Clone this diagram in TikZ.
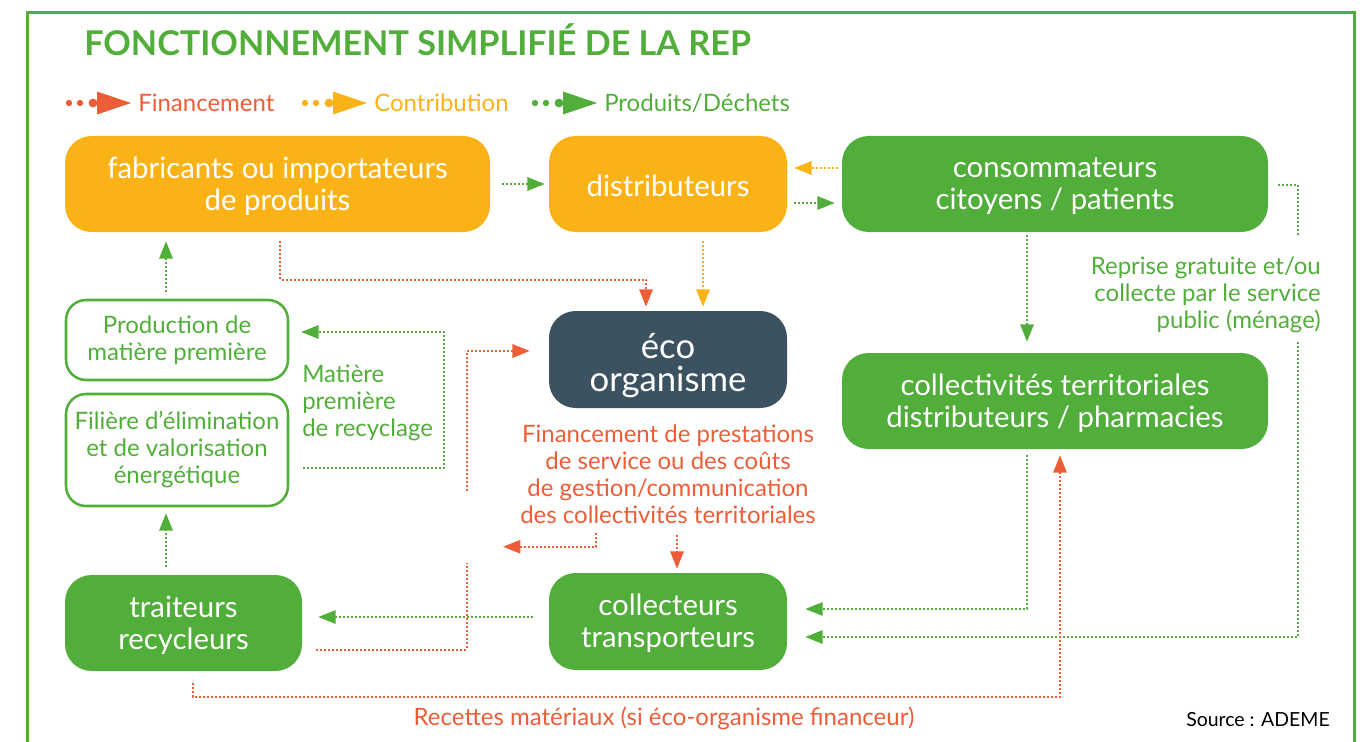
\documentclass[tikz,border=0pt]{standalone}
\usepackage{fontspec}
\setmainfont{Lato}
\usetikzlibrary{arrows.meta,calc}
\definecolor{repgreen}{RGB}{82,174,58}
\definecolor{reporange}{RGB}{250,178,23}
\definecolor{repred}{RGB}{236,93,56}
\definecolor{repslate}{RGB}{61,82,96}
\newcommand\repboxfont{\fontsize{22}{24}\selectfont}
\newcommand\repecofont{\fontsize{26}{25}\selectfont}
\newcommand\repsmallfont{\fontsize{18}{20.25}\selectfont}
\newcommand\replabfont{\fontsize{18}{20.25}\selectfont}
\begin{document}
\begin{tikzpicture}[x=0.75pt,y=-0.75pt,
  fillbox/.style={rounded corners=20pt,inner sep=0pt},
  boxtext/.style={inner sep=0pt,align=center,text=white,font=\repboxfont,yshift=-1.5pt},
  obox/.style={draw=repgreen,line width=1.9pt,fill=white,rounded corners=15pt,inner sep=0pt,
    align=center,text=repgreen,font=\repsmallfont,minimum width=166.5pt},
  dotline/.style={line width=1.5pt,dash pattern=on 1.5pt off 1.5pt},
  gdot/.style={dotline,draw=repgreen},
  odot/.style={dotline,draw=reporange},
  rdot/.style={dotline,draw=repred},
  tip/.style={-{Triangle[length=13pt,width=10pt]}},
  lab/.style={inner sep=0pt,font=\replabfont}
]
\useasboundingbox (0,0) rectangle (1365,742);

% outer frame, open at the bottom
\draw[repgreen,line width=2.25pt] (27,760) -- (27,13) -- (1354,13) -- (1354,760);

% title
\node[anchor=base west,inner sep=0pt,text=repgreen,font=\fontsize{25.6}{28}\bfseries] (title) at (84,56)
  {FONCTIONNEMENT SIMPLIFIÉ DE LA REP};

% legend
\foreach \c/\x/\t/\n in {repred/69/Financement/lfin,reporange/305/Contribution/lcon,repgreen/535/Produits\slash Déchets/lprod}{
  \fill[\c] (\x,103) circle (3.2);
  \fill[\c] (\x+11,103) circle (3.2);
  \fill[\c] (\x+24,103) circle (4.4);
  \fill[\c] (\x+28,91.5) -- (\x+62,103) -- (\x+28,114.5) -- cycle;
  \node[anchor=west,inner sep=0pt,text=\c,font=\fontsize{18}{20}\selectfont] (\n) at (\x+69,103) {\t};
}

% actors
\node[fillbox,fill=reporange,minimum width=318.75pt,minimum height=72pt,
  label={[boxtext]center:fabricants ou importateurs\\de produits}] (fab) at (277.5,184) {};
\node[fillbox,fill=reporange,minimum width=178.5pt,minimum height=72pt,
  label={[boxtext]center:distributeurs}] (dist) at (668,184) {};
\node[fillbox,fill=repgreen,minimum width=319.5pt,minimum height=72pt,
  label={[boxtext]center:consommateurs\\citoyens / patients}] (cons) at (1055,184) {};
\node[fillbox,fill=repslate,minimum width=178.5pt,minimum height=72.75pt,
  label={[boxtext,font=\repecofont,yshift=-3pt]center:éco\\organisme}] (eco) at (668,359.5) {};
\node[fillbox,fill=repgreen,minimum width=319.5pt,minimum height=72pt,
  label={[boxtext]center:collectivités territoriales\\distributeurs / pharmacies}] (coll) at (1055,401) {};
\node[obox,minimum height=60pt] (prod) at (177,340)
  {Production de\\matière première};
\node[obox,minimum height=84pt] (fil) at (177,450)
  {Filière d’élimination\\et de valorisation\\énergétique};
\node[fillbox,fill=repgreen,minimum width=177.75pt,minimum height=72pt,
  label={[boxtext]center:traiteurs\\recycleurs}] (trait) at (183.5,623) {};
\node[fillbox,fill=repgreen,minimum width=178.5pt,minimum height=72.75pt,
  label={[boxtext]center:collecteurs\\transporteurs}] (collect) at (668,621.5) {};

% labels
\node[lab,anchor=west,align=left,text=repgreen] (mat) at (302,403)
  {Matière\\première\\de recyclage};
\node[lab,align=center,text=repred] (fin) at (668,474)
  {Financement de prestations\\de service ou des coûts\\de gestion/communication\\des collectivités territoriales};
\node[lab,anchor=east,align=right,text=repgreen] (rep) at (1321,295)
  {Reprise gratuite et/ou\\collecte par le service\\public (ménage)};
\node[lab,text=repred] (rec) at (664,718) {Recettes matériaux (si éco-organisme financeur)};
\node[lab,text=black,font=\fontsize{14.6}{16}\selectfont] (src) at (1258,720) {Source : ADEME};

% product and waste flows
\draw[gdot,tip] ($(fab.east)+(12,0)$) -- ($(dist.west)+(-4,0)$);
\draw[gdot,tip] ($(dist.east)+(7,19)$) -- ($(cons.west)+(-7,19)$);
\draw[gdot,tip] ($(fil.east)+(14,18)$) -| ($(prod.east)+(155,-8)$) -- ($(prod.east)+(12,-8)$);
\draw[gdot,tip] ($(prod.north)+(-11,-7)$) -- ($(fab.south)+(-111.5,9)$);
\draw[gdot,tip] ($(trait.north)+(-17.5,-8)$) -- ($(fil.south)+(-11,6)$);
\draw[gdot,tip] ($(collect.west)+(-16,-4.5)$) -- ($(trait.east)+(16,-6)$);
\draw[gdot] ($(cons.east)+(10,1)$) -| ($(cons.east)+(30,51)$);
\draw[gdot,tip] ($(coll.east)+(30,-59)$) |- ($(collect.east)+(18,15.5)$);
\draw[gdot,tip] ($(cons.south)+(-28,3)$) -- ($(coll.north)+(-28,-11)$);
\draw[gdot,tip] ($(coll.south)+(-28,6)$) |- ($(collect.east)+(18,-12.5)$);

% contributions
\draw[odot,tip] ($(cons.west)+(-4,-16)$) -- ($(dist.east)+(7,-16)$);
\draw[odot,tip] ($(dist.south)+(35,9)$) -- ($(eco.north)+(35,-4)$);

% financing flows
\draw[rdot,tip] ($(fab.south)+(2.5,9)$) |- ($(eco.north)+(-22,-31)$) -- ($(eco.north)+(-22,-4)$);
\draw[rdot,tip] ($(eco.west)+(-82,131)$) |- ($(eco.west)+(-19,-8.5)$);
\draw[rdot,tip] ($(collect.north)+(-72,-40)$) |- ($(collect.north)+(-165,-26)$);
\draw[rdot,tip] ($(collect.north)+(9,-38)$) -- ($(collect.north)+(9,-4)$);
\draw[rdot] ($(trait.east)+(14,27)$) -| ($(collect.west)+(-82,-58.5)$);
\draw[rdot,tip] ($(trait.south)+(9.5,12)$) |- ($(coll.south)+(5,248)$) -- ($(coll.south)+(5,6)$);
\end{tikzpicture}
\end{document}
